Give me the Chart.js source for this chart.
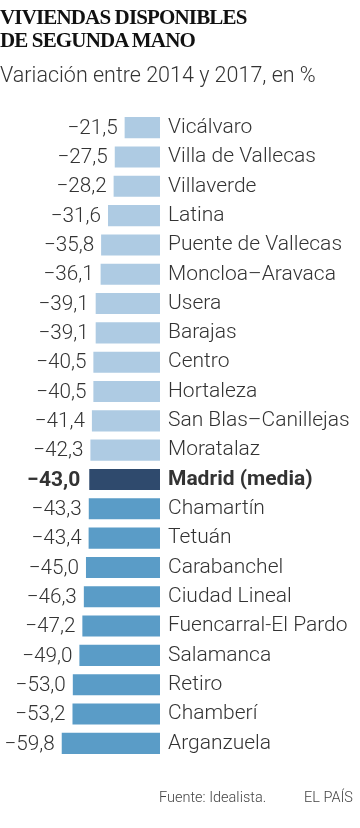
<!DOCTYPE html>
<html>
<head>
<meta charset="utf-8">
<script src="https://cdn.jsdelivr.net/npm/chart.js@4/dist/chart.umd.min.js"></script>
<style>
  html, body { margin: 0; padding: 0; background: #fff; }
  #wrap { position: relative; width: 360px; height: 828px; overflow: hidden; }
  #c { position: absolute; left: 0; top: 0; }
  .title { position: absolute; left: 0; top: 6px; font-family: "Liberation Serif", "DejaVu Serif", serif; font-weight: bold; font-size: 21px; line-height: 22.5px; color: #111; letter-spacing: -0.85px; }
  .sub { position: absolute; left: 0; top: 62px; font-family: Roboto, "Noto Sans", sans-serif; font-weight: 300; font-size: 21.5px; color: #333; }
  .foot { position: absolute; top: 789px; font-family: Roboto, "Noto Sans", sans-serif; font-weight: 300; font-size: 14.5px; color: #444; }
</style>
</head>
<body>
<div id="wrap">
  <canvas id="c" width="360" height="828"></canvas>
  <div class="title">VIVIENDAS DISPONIBLES<br>DE SEGUNDA MANO</div>
  <div class="sub">Variación entre 2014 y 2017, en %</div>
  <div class="foot" style="left:159px">Fuente: Idealista.</div>
  <div class="foot" style="left:304px">EL PAÍS</div>
</div>
<script>
const districts = ["Vicálvaro","Villa de Vallecas","Villaverde","Latina","Puente de Vallecas","Moncloa–Aravaca","Usera","Barajas","Centro","Hortaleza","San Blas–Canillejas","Moratalaz","Madrid (media)","Chamartín","Tetuán","Carabanchel","Ciudad Lineal","Fuencarral-El Pardo","Salamanca","Retiro","Chamberí","Arganzuela"];
const variation = [-21.5,-27.5,-28.2,-31.6,-35.8,-36.1,-39.1,-39.1,-40.5,-40.5,-41.4,-42.3,-43.0,-43.3,-43.4,-45.0,-46.3,-47.2,-49.0,-53.0,-53.2,-59.8];
const averageLabel = "Madrid (media)";

const avgIdx = districts.indexOf(averageLabel);
const colors = districts.map((d, i) => i < avgIdx ? "#aecbe3" : (i === avgIdx ? "#2f4a6d" : "#5a9cc7"));
const fmt = v => "\u2212" + Math.abs(v).toFixed(1).replace(".", ",");

const valueLabels = {
  id: "valueLabels",
  afterDatasetsDraw(chart) {
    const ctx = chart.ctx;
    const meta = chart.getDatasetMeta(0);
    ctx.save();
    ctx.textAlign = "right";
    ctx.textBaseline = "middle";
    ctx.fillStyle = "#333";
    meta.data.forEach((bar, i) => {
      const bold = i === avgIdx;
      ctx.font = (bold ? "bold 21px " : "300 20.7px ") + "Roboto";
      const left = Math.min(bar.x, bar.base);
      ctx.fillText(fmt(variation[i]), left - (bold ? 9 : 7), bar.y + 1);
    });
    ctx.restore();
  }
};

new Chart(document.getElementById("c"), {
  type: "bar",
  data: {
    labels: districts,
    datasets: [{ data: variation, backgroundColor: colors, borderWidth: 0, barPercentage: 0.72, categoryPercentage: 1 }]
  },
  options: {
    indexAxis: "y",
    responsive: false,
    animation: false,
    devicePixelRatio: 1,
    layout: { padding: { left: 61.3, top: 113, bottom: 70, right: 0 } },
    plugins: { legend: { display: false }, tooltip: { enabled: false }, title: { display: false } },
    scales: {
      x: { display: false, min: -60, max: 0 },
      y: {
        position: "right",
        grid: { display: false, drawTicks: false },
        border: { display: false },
        afterFit(scale) { scale.width = 200; },
        ticks: {
          autoSkip: false,
          padding: 8,
          color: "#333",
          font: ctx => ({ family: "Roboto", size: 21, weight: ctx.index === avgIdx ? "bold" : "300" })
        }
      }
    }
  },
  plugins: [valueLabels]
});
</script>
</body>
</html>
